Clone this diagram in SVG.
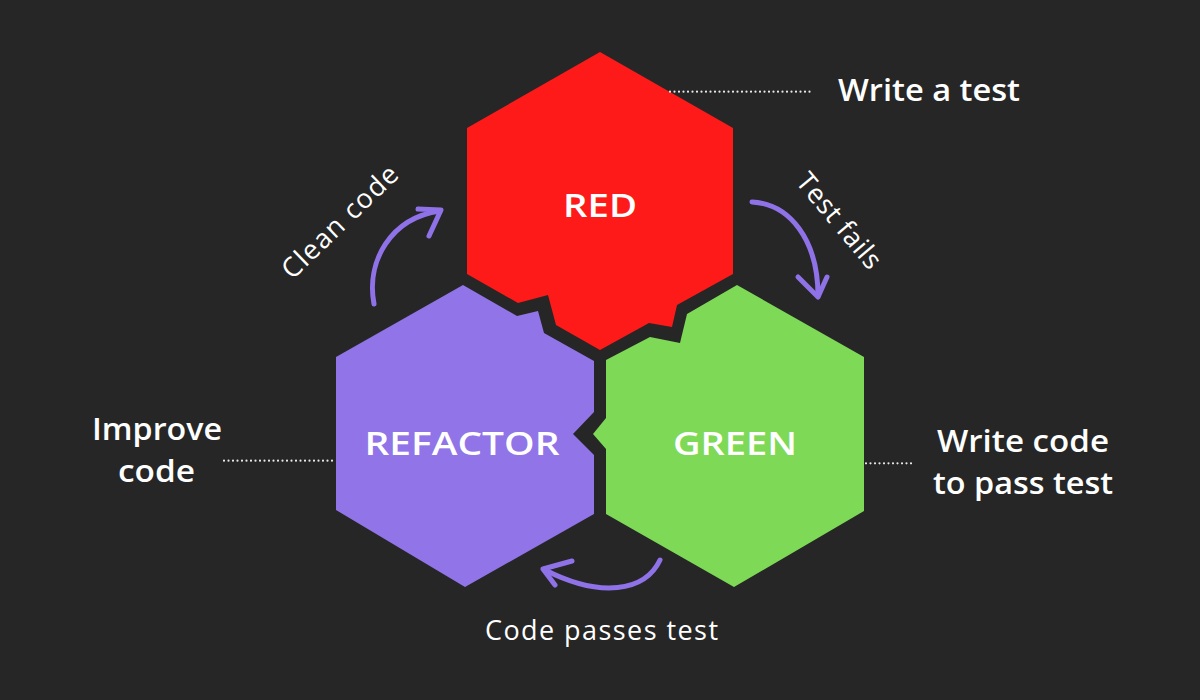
<svg xmlns="http://www.w3.org/2000/svg" width="1200" height="700" viewBox="0 0 1200 700">
<style>
.hexlabel{font-family:"Open Sans","Liberation Sans",sans-serif;font-weight:600;font-size:32px;fill:#ffffff;text-anchor:middle}
.side{font-family:"Open Sans","Liberation Sans",sans-serif;font-weight:600;font-size:30px;fill:#ffffff;text-anchor:middle}
.note{font-family:"Open Sans","Liberation Sans",sans-serif;font-weight:400;font-size:27px;fill:#ffffff;text-anchor:middle}
.arrow{fill:none;stroke:#8f72e8;stroke-width:5;stroke-linecap:round;stroke-linejoin:round}
.dots{fill:none;stroke:#e8e8e8;stroke-width:2.2;stroke-linecap:round;stroke-dasharray:0 4.5}
</style>
<rect width="1200" height="700" fill="#262626"/>
<g id="red">
<polygon fill="#ff1a1a" points="600,52 733,128 733,274 677,305 672,327 649,323 600,350 556,325 548,295 518,303 467,274 467,128"/>
<text class="hexlabel" x="600" y="217" textLength="74" lengthAdjust="spacingAndGlyphs">RED</text>
</g>
<g id="refactor">
<polygon fill="#9074e8" points="463,285 517,316 538,311 544,333 594,361 594,412 573,434 594,455 594,514 465,587 336,510 336,357"/>
<text class="hexlabel" x="462" y="455" textLength="195" lengthAdjust="spacingAndGlyphs">REFACTOR</text>
</g>
<g id="green">
<polygon fill="#7ed957" points="737,285 864,357 864,511 734,587 606,514 606,449 593,434 606,418 606,360 650,337 680,343 687,314"/>
<text class="hexlabel" x="735" y="455" textLength="124" lengthAdjust="spacingAndGlyphs">GREEN</text>
</g>
<g id="labels">
<line class="dots" x1="670" y1="91.7" x2="812" y2="91.7"/>
<text class="side" x="929" y="100.5" textLength="182" lengthAdjust="spacingAndGlyphs">Write a test</text>
<line class="dots" x1="224" y1="460.7" x2="334" y2="460.7"/>
<text class="side" x="157" y="440" textLength="130" lengthAdjust="spacingAndGlyphs">Improve</text>
<text class="side" x="156.5" y="482" textLength="77" lengthAdjust="spacingAndGlyphs">code</text>
<line class="dots" x1="866" y1="463.3" x2="912" y2="463.3"/>
<text class="side" x="1023" y="452" textLength="172" lengthAdjust="spacingAndGlyphs">Write code</text>
<text class="side" x="1023" y="494" textLength="180" lengthAdjust="spacingAndGlyphs">to pass test</text>
</g>
<g id="connectors">
<g id="arrow-clean">
<path class="arrow" d="M374,304 C366,262 390,218 440,211"/>
<path class="arrow" d="M418,209 L441,210 L429,236"/>
<text class="note" transform="translate(340,222) rotate(-44)" x="0" y="9" textLength="150">Clean code</text>
</g>
<g id="arrow-fails">
<path class="arrow" d="M752,202 C790,204 818,240 818,296"/>
<path class="arrow" d="M798,277 L818,297 L827,277"/>
<text class="note" transform="translate(839,221) rotate(50)" x="0" y="9" textLength="116">Test fails</text>
</g>
<g id="arrow-passes">
<path class="arrow" d="M660,560 C645,592 600,598 545,570"/>
<path class="arrow" d="M572,561 L543,569 L555,585"/>
<text class="note" x="601.5" y="640" textLength="233">Code passes test</text>
</g>
</g>
</svg>
